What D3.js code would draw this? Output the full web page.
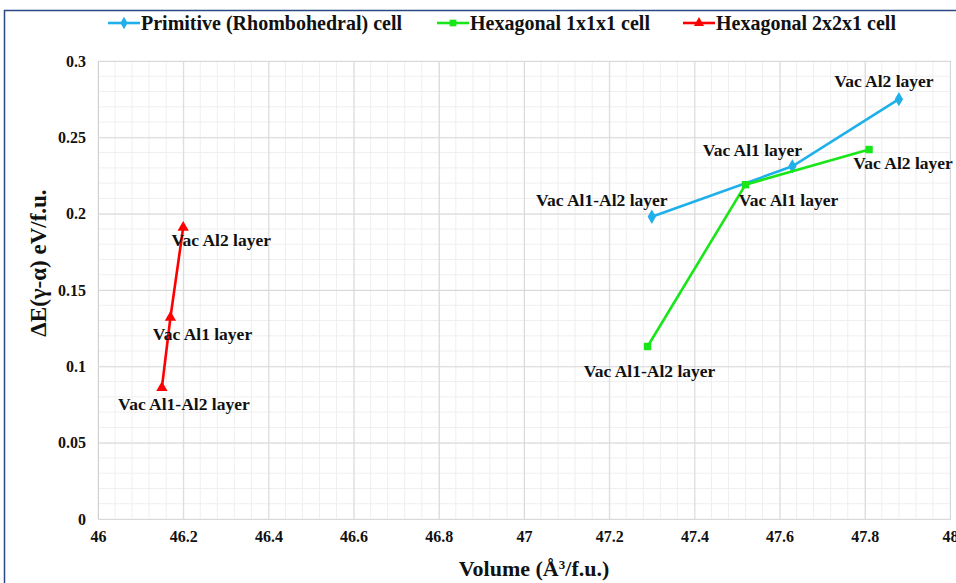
<!DOCTYPE html>
<html>
<head>
<meta charset="utf-8">
<script src="https://cdn.jsdelivr.net/npm/d3@7"></script>
<style>
  body { margin: 0; background: #fff; }
  svg text { font-family: "Liberation Serif", "Times New Roman", serif; font-weight: bold; fill: #111; }
</style>
</head>
<body>
<svg id="chart" width="956" height="583"></svg>
<script>
// data
const seriesNames = ['Primitive (Rhombohedral) cell', 'Hexagonal 1x1x1 cell', 'Hexagonal 2x2x1 cell'];
const primVol = [47.30, 47.63, 47.88];
const primE = [0.198, 0.231, 0.275];
const hex1Vol = [47.29, 47.52, 47.81];
const hex1E = [0.113, 0.219, 0.242];
const hex2Vol = [46.15, 46.17, 46.20];
const hex2E = [0.086, 0.132, 0.191];
const pointLabels = ['Vac Al1-Al2 layer', 'Vac Al1 layer', 'Vac Al2 layer'];
const xTicks = [46, 46.2, 46.4, 46.6, 46.8, 47, 47.2, 47.4, 47.6, 47.8, 48];
const yTicks = [0, 0.05, 0.1, 0.15, 0.2, 0.25, 0.3];

const colors = ['#1fb0ea', '#19e619', '#ff0000'];
// label offsets in px from each point (center of text)
const labelOffsets = [
  [[-50, -17], [-40, -16], [-15, -18]],
  [[2, 24], [43, 15], [34, 13]],
  [[22, 16], [32, 16], [38, 12]]
];

const svg = d3.select('#chart');
const W = 956, H = 583;
const margin = { left: 98, right: 6, top: 61, bottom: 64 };

// outer border
svg.append('rect')
  .attr('x', 4.5).attr('y', 10.5)
  .attr('width', 960).attr('height', 600)
  .attr('fill', 'none')
  .attr('stroke', '#2a4a85')
  .attr('stroke-width', 1.5);

const x = d3.scaleLinear().domain([46, 48]).range([margin.left, W - margin.right]);
const y = d3.scaleLinear().domain([0, 0.3]).range([H - margin.bottom, margin.top]);

const g = svg.append('g');

// minor gridlines
const xMinor = d3.range(46, 48.0001, 0.04);
const yMinor = d3.range(0, 0.3001, 0.01);
g.selectAll('.xminor').data(xMinor).enter().append('line')
  .attr('x1', d => x(d)).attr('x2', d => x(d))
  .attr('y1', y(0)).attr('y2', y(0.3))
  .attr('stroke', '#efefef').attr('stroke-width', 1);
g.selectAll('.yminor').data(yMinor).enter().append('line')
  .attr('x1', x(46)).attr('x2', x(48))
  .attr('y1', d => y(d)).attr('y2', d => y(d))
  .attr('stroke', '#efefef').attr('stroke-width', 1);

// major gridlines via axes
g.append('g')
  .attr('transform', `translate(0,${y(0)})`)
  .call(d3.axisBottom(x).tickValues(xTicks).tickSize(-(y(0) - y(0.3))).tickFormat(d3.format('')))
  .call(a => a.select('.domain').attr('stroke', '#d0d0d0'))
  .call(a => a.selectAll('.tick line').attr('stroke', '#d9d9d9'))
  .call(a => a.selectAll('.tick text').attr('dy', 0).attr('y', 23).attr('font-size', 16).style('font-family', '"Liberation Serif", serif'));

g.append('g')
  .attr('transform', `translate(${x(46)},0)`)
  .call(d3.axisLeft(y).tickValues(yTicks).tickSize(-(x(48) - x(46))).tickFormat(d3.format('')))
  .call(a => a.select('.domain').attr('stroke', '#d0d0d0'))
  .call(a => a.selectAll('.tick line').attr('stroke', '#d9d9d9'))
  .call(a => a.selectAll('.tick text').attr('x', -12).attr('font-size', 16).style('font-family', '"Liberation Serif", serif'));

svg.selectAll('.tick text').attr('fill', '#111');

// axis titles
const xt = svg.append('text')
  .attr('x', 534).attr('y', 576)
  .attr('text-anchor', 'middle')
  .attr('font-size', 22);
xt.append('tspan').text('Volume (Å');
xt.append('tspan').attr('baseline-shift', 'super').attr('font-size', 13).text('3');
xt.append('tspan').text('/f.u.)');

svg.append('text')
  .attr('transform', 'translate(46,263) rotate(-90)')
  .attr('text-anchor', 'middle')
  .attr('font-size', 23)
  .text('ΔE(γ-α) eV/f.u.');

// series
const series = [
  { vol: primVol, e: primE, sym: d3.symbolDiamond, size: 60 },
  { vol: hex1Vol, e: hex1E, sym: d3.symbolSquare, size: 55 },
  { vol: hex2Vol, e: hex2E, sym: d3.symbolTriangle, size: 55 }
];

const line = d3.line().x(d => x(d[0])).y(d => y(d[1]));

series.forEach((s, i) => {
  const pts = s.vol.map((v, j) => [v, s.e[j]]);
  svg.append('path')
    .attr('d', line(pts))
    .attr('fill', 'none')
    .attr('stroke', colors[i])
    .attr('stroke-width', 2.6);
  svg.selectAll(null).data(pts).enter().append('path')
    .attr('d', d3.symbol().type(s.sym).size(s.size))
    .attr('transform', d => `translate(${x(d[0])},${y(d[1])})`)
    .attr('fill', colors[i]);
  svg.selectAll(null).data(pts).enter().append('text')
    .attr('x', (d, j) => x(d[0]) + labelOffsets[i][j][0])
    .attr('y', (d, j) => y(d[1]) + labelOffsets[i][j][1])
    .attr('dy', '0.35em')
    .attr('text-anchor', 'middle')
    .attr('font-size', 17.5)
    .text((d, j) => pointLabels[j]);
});

// legend
const legendX = [108, 437, 683];
const legendSym = [d3.symbolDiamond, d3.symbolSquare, d3.symbolTriangle];
seriesNames.forEach((name, i) => {
  const lg = svg.append('g').attr('transform', `translate(${legendX[i]},23)`);
  lg.append('line').attr('x1', 0).attr('x2', 32).attr('y1', 0).attr('y2', 0)
    .attr('stroke', colors[i]).attr('stroke-width', 2.6);
  lg.append('path').attr('d', d3.symbol().type(legendSym[i]).size(45)())
    .attr('transform', 'translate(16,0)').attr('fill', colors[i]);
  lg.append('text').attr('x', 33).attr('y', 0).attr('dy', '0.35em')
    .attr('font-size', 20).text(name);
});
</script>
</body>
</html>
